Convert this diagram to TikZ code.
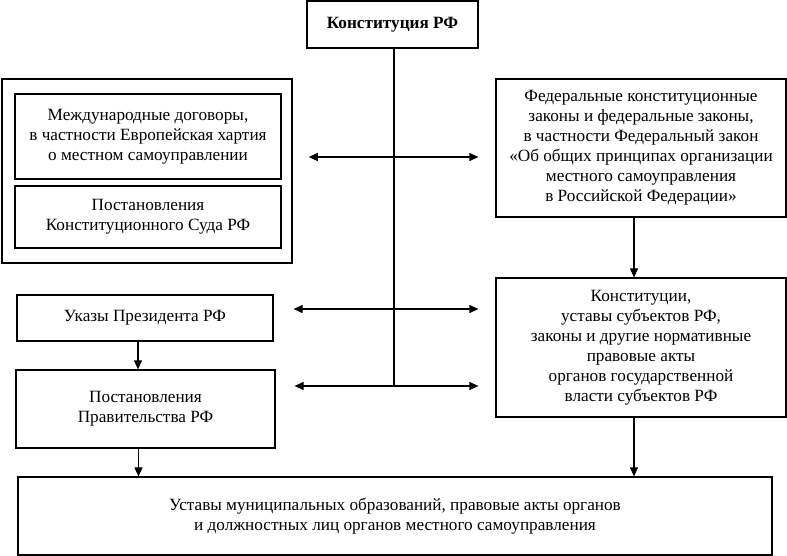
\documentclass[tikz,border=0pt]{standalone}
\usepackage{fontspec}
\setmainfont{Liberation Serif}
\usetikzlibrary{arrows.meta}

\begin{document}
\begin{tikzpicture}[x=1pt, y=-1pt]
    % Стиль для блоков
    \tikzstyle{box_style} = [draw=black, line width=1.2pt, align=center, inner sep=0pt, font=\fontsize{17.2}{20}\selectfont]

    % Стиль для стрелок
    \tikzstyle{arrow_style} = [line width=1.1pt, -{Triangle[length=9pt, width=8pt]}]

    % Стиль для линий без стрелок
    \tikzstyle{line_style} = [line width=1.1pt]

    \useasboundingbox (0,0) rectangle (787,556);

    % Блоки с примерными позициями
    \node[box_style, minimum width=171, minimum height=47, font=\fontsize{17.2}{20}\selectfont\bfseries] (konst) at (392.5,24.5) {Конституция РФ};
    \node[box_style, line width=1.5pt, minimum width=290, minimum height=184] (outer) at (147,171) {};
    \node[box_style, minimum width=266, minimum height=85] (mezh) at (148,136.5) {Международные договоры,\\в частности Европейская хартия\\о местном самоуправлении};
    \node[box_style, minimum width=266, minimum height=62] (ks) at (148,217) {Постановления\\Конституционного Суда РФ};
    \node[box_style, minimum width=290, minimum height=138] (fed) at (641,148) {Федеральные конституционные\\законы и федеральные законы,\\в частности Федеральный закон\\«Об общих принципах организации\\местного самоуправления\\в Российской Федерации»};
    \node[box_style, minimum width=290, minimum height=139] (subj) at (641,347.5) {Конституции,\\уставы субъектов РФ,\\законы и другие нормативные\\правовые акты\\органов государственной\\власти субъектов РФ};
    \node[box_style, minimum width=256, minimum height=46] (ukaz) at (145,318) {Указы Президента РФ};
    \node[box_style, minimum width=259, minimum height=78] (prav) at (145.5,409) {Постановления\\Правительства РФ};
    \node[box_style, minimum width=754, minimum height=78] (ustav) at (395,516) {Уставы муниципальных образований, правовые акты органов\\и должностных лиц органов местного самоуправления};

    % Точки на вертикальной линии
    \coordinate (j1) at (394,157);
    \coordinate (j2) at (394,309);
    \coordinate (j3) at (394,386);

    % Вертикальная линия от Конституции
    \draw[line_style] (konst.south -| j1) -- (j3);

    % Горизонтальные стрелки
    \draw[arrow_style, shorten >=16pt] (j1) -- (outer.east |- j1);
    \draw[arrow_style, shorten >=17pt] (j1) -- (fed.west |- j1);
    \draw[arrow_style, shorten >=20pt] (j2) -- (ukaz.east |- j2);
    \draw[arrow_style, shorten >=17pt] (j2) -- (subj.west |- j2);
    \draw[arrow_style, shorten >=19pt] (j3) -- (prav.east |- j3);
    \draw[arrow_style, shorten >=17pt] (j3) -- (subj.west |- j3);

    % Вертикальные стрелки
    \draw[arrow_style] ([xshift=-7]ukaz.south) -- ([xshift=-7]ukaz.south |- prav.north);
    \draw[arrow_style] ([xshift=-7]prav.south) -- ([xshift=-7]prav.south |- ustav.north);
    \draw[arrow_style] ([xshift=-7]fed.south) -- ([xshift=-7]fed.south |- subj.north);
    \draw[arrow_style] ([xshift=-7]subj.south) -- ([xshift=-7]subj.south |- ustav.north);

\end{tikzpicture}
\end{document}
